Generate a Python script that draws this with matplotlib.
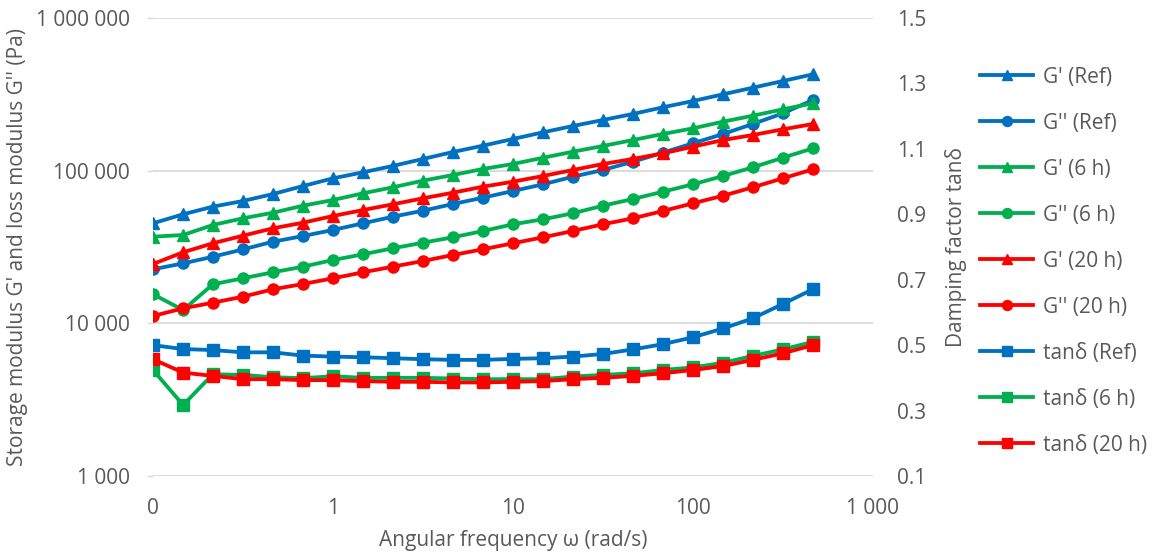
import matplotlib
matplotlib.use("Agg")
import matplotlib.pyplot as plt
from matplotlib.ticker import FixedLocator, NullLocator, FixedFormatter

plt.rcParams['font.family'] = ['Open Sans', 'DejaVu Sans']

freq = [0.1, 0.147, 0.215, 0.316, 0.464, 0.681, 1, 1.47, 2.15, 3.16, 4.64, 6.81,
        10, 14.7, 21.5, 31.6, 46.4, 68.1, 100, 147, 215, 316, 464]

g1_ref = [45200, 51800, 58100, 63300, 70300, 79300, 89100, 97600, 107400, 119300, 132500, 145800,
          161300, 178400, 196100, 214800, 235200, 260100, 285900, 316400, 349500, 386700, 427700]
g2_ref = [22600, 24700, 27300, 30500, 34250, 37300, 40900, 45200, 49940, 54680, 60480, 66530,
          73600, 81400, 91300, 101000, 114500, 131200, 151100, 173900, 202200, 237600, 290300]
g1_6h = [36940, 37900, 44070, 48750, 53050, 58950, 64250, 71100, 77830, 85970, 93680, 102600,
         110600, 121600, 133100, 145100, 158800, 173900, 189400, 209400, 229100, 252300, 276300]
g2_6h = [15500, 12230, 18020, 19720, 21600, 23500, 25990, 28330, 31010, 33750, 36610, 40250,
         44540, 48030, 52580, 58950, 65230, 72820, 81400, 92290, 105200, 121600, 140100]
g1_20h = [24470, 29200, 33450, 37500, 41930, 45620, 50470, 55250, 60200, 65920, 71730, 78530,
          84680, 92290, 101000, 110600, 119300, 129900, 143600, 158800, 171200, 186600, 202200]
g2_20h = [11170, 12540, 13650, 14950, 16710, 18100, 19720, 21600, 23500, 25600, 28030, 30550,
          33450, 36610, 40250, 44540, 48750, 54420, 61110, 68550, 77830, 89100, 102100]

tan_ref = [0.500, 0.488, 0.485, 0.478, 0.478, 0.468, 0.465, 0.463, 0.460, 0.457, 0.455, 0.455,
           0.458, 0.460, 0.465, 0.473, 0.487, 0.503, 0.524, 0.551, 0.582, 0.626, 0.671]
tan_6h = [0.424, 0.317, 0.411, 0.409, 0.402, 0.399, 0.405, 0.400, 0.400, 0.400, 0.398, 0.396,
          0.396, 0.396, 0.404, 0.409, 0.414, 0.424, 0.432, 0.446, 0.467, 0.487, 0.510]
tan_20h = [0.457, 0.416, 0.406, 0.396, 0.396, 0.393, 0.393, 0.390, 0.388, 0.388, 0.386, 0.386,
           0.388, 0.390, 0.396, 0.400, 0.406, 0.414, 0.424, 0.436, 0.455, 0.475, 0.500]

x_ticks = [0.1, 1, 10, 100, 1000]
x_tick_labels = ["0", "1", "10", "100", "1 000"]
y_ticks = [1000, 10000, 100000, 1000000]
y_tick_labels = ["1 000", "10 000", "100 000", "1 000 000"]
y2_ticks = [0.1, 0.3, 0.5, 0.7, 0.9, 1.1, 1.3, 1.5]
y2_tick_labels = ["0.1", "0.3", "0.5", "0.7", "0.9", "1.1", "1.3", "1.5"]

BLUE = "#0070C0"
GREEN = "#00B050"
RED = "#FF0000"
TXT = "#595959"
GRID = "#D9D9D9"
FS = 15

fig = plt.figure(figsize=(11.64, 5.6), dpi=100)
ax = fig.add_axes([153/1164, 1 - 476/560, 720/1164, 458/560])
ax2 = ax.twinx()

lw = 2.75
ms = 8
left_series = [
    (g1_ref, BLUE, '^', "G' (Ref)"),
    (g2_ref, BLUE, 'o', "G'' (Ref)"),
    (g1_6h, GREEN, '^', "G' (6 h)"),
    (g2_6h, GREEN, 'o', "G'' (6 h)"),
    (g1_20h, RED, '^', "G' (20 h)"),
    (g2_20h, RED, 'o', "G'' (20 h)"),
]
handles = []
for vals, c, m, lab in left_series:
    h, = ax.plot(freq, vals, color=c, marker=m, markersize=ms, lw=lw, label=lab)
    handles.append(h)

right_series = [
    (tan_ref, BLUE, 's', "tanδ (Ref)"),
    (tan_6h, GREEN, 's', "tanδ (6 h)"),
    (tan_20h, RED, 's', "tanδ (20 h)"),
]
for vals, c, m, lab in right_series:
    h, = ax2.plot(freq, vals, color=c, marker=m, markersize=ms, lw=lw, label=lab)
    handles.append(h)

ax.set_xscale('log')
ax.set_yscale('log')
ax.set_xlim(0.1, 1000)
ax.set_ylim(1000, 1000000)
ax2.set_ylim(0.1, 1.5)

ax.xaxis.set_major_locator(FixedLocator(x_ticks))
ax.xaxis.set_major_formatter(FixedFormatter(x_tick_labels))
ax.xaxis.set_minor_locator(NullLocator())
ax.yaxis.set_major_locator(FixedLocator(y_ticks))
ax.yaxis.set_major_formatter(FixedFormatter(y_tick_labels))
ax.yaxis.set_minor_locator(NullLocator())
ax2.yaxis.set_major_locator(FixedLocator(y2_ticks))
ax2.yaxis.set_major_formatter(FixedFormatter(y2_tick_labels))
ax2.yaxis.set_minor_locator(NullLocator())

for a in (ax, ax2):
    for s in a.spines.values():
        s.set_visible(False)

ax.grid(axis='y', color=GRID, lw=1.3)
ax.set_axisbelow(True)
ax.tick_params(axis='x', length=0, pad=16, labelsize=FS, colors=TXT)
ax.tick_params(axis='y', length=4.5, width=1, color=GRID, pad=12, labelsize=FS, labelcolor=TXT)
ax2.tick_params(axis='y', length=0, pad=17, labelsize=FS, labelcolor=TXT)

ax.set_xlabel("Angular frequency ω (rad/s)", fontsize=FS, color=TXT, labelpad=8)
ax.set_ylabel("Storage modulus G' and loss modulus G'' (Pa)", fontsize=FS, color=TXT, labelpad=6)
ax2.set_ylabel("Damping factor tanδ", fontsize=FS, color=TXT, labelpad=13.5)

leg = fig.legend(handles=handles, loc='center left', bbox_to_anchor=(980/1164, 1 - 261/560),
                 frameon=False, fontsize=FS, labelspacing=1.2, handlelength=2.55,
                 handletextpad=0.48, borderpad=0, borderaxespad=0, markerscale=0.9)
for t in leg.get_texts():
    t.set_color(TXT)

fig.savefig("out.png", dpi=100)
